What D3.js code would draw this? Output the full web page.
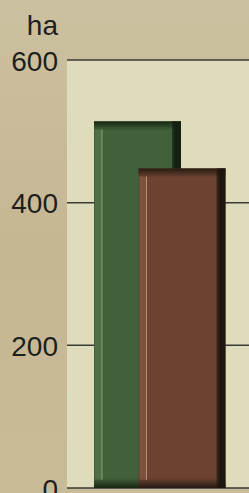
<!DOCTYPE html>
<html>
<head>
<meta charset="utf-8">
<script src="https://cdn.jsdelivr.net/npm/d3@7"></script>
<style>
  body { margin: 0; background: #c9bd9b; overflow: hidden; }
  svg { display: block; }
</style>
</head>
<body>
<svg id="chart"></svg>
<script>
let series = ["A", "B"]
let values = [514, 448]
let tickValues = [0, 200, 400, 600]
let unitLabel = "ha"

let fills = ["#41613a", "#6b4330"]
let darks = ["#13200f", "#1f1610"]
let lights = ["#8fb07f", "#c99a7e"]

let width = 249
let height = 493
let plotLeft = 67
let plotTop = 60
let plotBottom = 488
let bw = 87

let svg = d3.select("#chart")
  .attr("width", width)
  .attr("height", height)

let defs = svg.append("defs")
let bgGrad = defs.append("linearGradient").attr("id", "bg").attr("x1", 0).attr("y1", 0).attr("x2", 0).attr("y2", 1)
bgGrad.append("stop").attr("offset", "0").attr("stop-color", "#cbc09f")
bgGrad.append("stop").attr("offset", "0.5").attr("stop-color", "#c6b794")
bgGrad.append("stop").attr("offset", "1").attr("stop-color", "#c8bb97")
svg.append("rect").attr("width", width).attr("height", height).attr("fill", "url(#bg)")

let yScale = d3.scaleLinear().domain([0, 600]).range([plotBottom, plotTop])
// bars overlap: left edges sit 44.5px apart
let xScale = d3.scalePoint().domain(series).range([94, 138.5])

// plot area
svg.append("rect")
  .attr("x", plotLeft)
  .attr("y", yScale(600))
  .attr("width", width - plotLeft)
  .attr("height", yScale(0) - yScale(600))
  .attr("fill", "#dedcba")

// gridlines
svg.append("g")
  .selectAll("line")
  .data(tickValues)
  .enter()
  .append("line")
  .attr("x1", plotLeft)
  .attr("x2", width)
  .attr("y1", d => yScale(d))
  .attr("y2", d => yScale(d))
  .attr("stroke", "#3a3a36")
  .attr("stroke-width", 1.5)

// tick labels
let yAxis = d3.axisLeft(yScale).tickValues(tickValues).tickSize(0).tickPadding(0)
let gAxis = svg.append("g").attr("transform", "translate(58,0)").call(yAxis)
gAxis.select(".domain").remove()
gAxis.selectAll("text")
  .attr("fill", "#1e1e1e")
  .style("font-family", "Liberation Sans, Arial, sans-serif")
  .style("font-size", "28px")
  .attr("dy", "0.36em")

svg.append("text")
  .attr("x", 58)
  .attr("y", yScale(600) - 35)
  .attr("text-anchor", "end")
  .attr("dy", "0.36em")
  .text(unitLabel)
  .attr("fill", "#1e1e1e")
  .style("font-family", "Liberation Sans, Arial, sans-serif")
  .style("font-size", "28px")

// gradients for bevels
series.forEach((s, i) => {
  let t = defs.append("linearGradient").attr("id", "top" + i).attr("x1", 0).attr("y1", 0).attr("x2", 0).attr("y2", 1)
  t.append("stop").attr("offset", "0").attr("stop-color", darks[i]).attr("stop-opacity", 0.9)
  t.append("stop").attr("offset", "1").attr("stop-color", darks[i]).attr("stop-opacity", 0)
  let b = defs.append("linearGradient").attr("id", "bot" + i).attr("x1", 0).attr("y1", 0).attr("x2", 0).attr("y2", 1)
  b.append("stop").attr("offset", "0").attr("stop-color", darks[i]).attr("stop-opacity", 0)
  b.append("stop").attr("offset", "1").attr("stop-color", darks[i]).attr("stop-opacity", 0.9)
  let r = defs.append("linearGradient").attr("id", "right" + i).attr("x1", 0).attr("y1", 0).attr("x2", 1).attr("y2", 0)
  r.append("stop").attr("offset", "0").attr("stop-color", darks[i]).attr("stop-opacity", 0.6)
  r.append("stop").attr("offset", "0.4").attr("stop-color", darks[i]).attr("stop-opacity", 1)
  r.append("stop").attr("offset", "1").attr("stop-color", darks[i]).attr("stop-opacity", 1)
})

let bars = svg.selectAll(".bar")
  .data(values)
  .enter()
  .append("g")
  .attr("class", "bar")
  .attr("transform", (d, i) => "translate(" + xScale(series[i]) + ",0)")

bars.append("rect")
  .attr("x", 0)
  .attr("y", d => yScale(d))
  .attr("width", bw)
  .attr("height", d => yScale(0) - yScale(d))
  .attr("fill", (d, i) => fills[i])

// left highlight
bars.append("rect")
  .attr("x", 1)
  .attr("y", d => yScale(d) + 8)
  .attr("width", 7)
  .attr("height", d => yScale(0) - yScale(d) - 16)
  .attr("fill", (d, i) => lights[i])
  .attr("opacity", 0.18)
bars.append("line")
  .attr("x1", 8)
  .attr("x2", 8)
  .attr("y1", d => yScale(d) + 8)
  .attr("y2", plotBottom - 8)
  .attr("stroke", (d, i) => lights[i])
  .attr("stroke-width", 1)
  .attr("opacity", 0.85)

// top bevel
bars.append("rect")
  .attr("x", 0)
  .attr("y", d => yScale(d))
  .attr("width", bw)
  .attr("height", 9)
  .attr("fill", (d, i) => "url(#top" + i + ")")

// bottom bevel
bars.append("rect")
  .attr("x", 0)
  .attr("y", plotBottom - 10)
  .attr("width", bw)
  .attr("height", 10)
  .attr("fill", (d, i) => "url(#bot" + i + ")")

// right dark edge
bars.append("rect")
  .attr("x", bw - 9)
  .attr("y", d => yScale(d))
  .attr("width", 9)
  .attr("height", d => yScale(0) - yScale(d))
  .attr("fill", (d, i) => "url(#right" + i + ")")
</script>
</body>
</html>
